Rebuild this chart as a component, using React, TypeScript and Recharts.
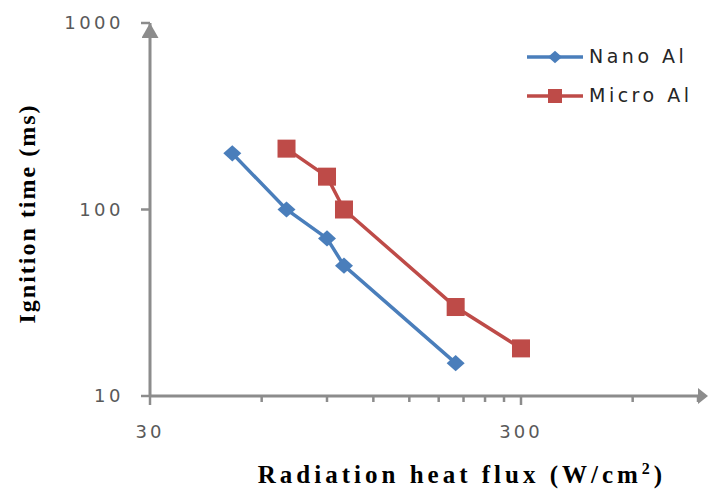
import React from "react";
import { Line, LineChart, XAxis, YAxis } from "recharts";

const NANO_FLUX = [50, 70, 90, 100, 200];
const NANO_TIME = [200, 100, 70, 50, 15];
const MICRO_FLUX = [70, 90, 100, 200, 300];
const MICRO_TIME = [212, 150, 100, 30, 18];

const X_TICKS = [30, 60, 90, 120, 150, 180, 210, 240, 270, 300, 600, 900];
const X_LABELS = [30, 300];
const Y_TICKS = [10, 100, 1000];

const COLORS = {
  nano: "#4A7EBB",
  micro: "#BE4B48",
  axis: "#8C8C8C",
  tickText: "#595959",
};

const nanoData = NANO_FLUX.map((x, i) => ({ x, y: NANO_TIME[i] }));
const microData = MICRO_FLUX.map((x, i) => ({ x, y: MICRO_TIME[i] }));

const TICK_FONT = "'DejaVu Sans', sans-serif";
const TITLE_FONT = "'Liberation Serif', 'Times New Roman', serif";

function Diamond({ cx, cy, r = 9, fill }: any) {
  if (cx == null || cy == null) return null;
  return (
    <path
      d={`M${cx},${cy - r * 0.9} L${cx + r},${cy} L${cx},${cy + r * 0.9} L${cx - r},${cy} Z`}
      fill={fill}
    />
  );
}

function Square({ cx, cy, s = 18, fill }: any) {
  if (cx == null || cy == null) return null;
  return <rect x={cx - s / 2} y={cy - s / 2} width={s} height={s} fill={fill} />;
}

function XTick({ x, y, payload }: any) {
  const major = X_LABELS.includes(payload.value);
  return (
    <g>
      <line x1={x} x2={x} y1={y} y2={y + (major ? 9 : 6)} stroke={COLORS.axis} strokeWidth={2.5} />
      {major && (
        <text
          x={x}
          y={y + 42}
          textAnchor="middle"
          fill={COLORS.tickText}
          fontFamily={TICK_FONT}
          fontSize={18}
          letterSpacing={3}
        >
          {payload.value}
        </text>
      )}
    </g>
  );
}

function YTick({ x, y, payload }: any) {
  return (
    <g>
      <line x1={x - 9} x2={x} y1={y} y2={y} stroke={COLORS.axis} strokeWidth={2.5} />
      <text
        x={x - 26}
        y={y + 6}
        textAnchor="end"
        fill={COLORS.tickText}
        fontFamily={TICK_FONT}
        fontSize={18}
        letterSpacing={3.5}
      >
        {payload.value}
      </text>
    </g>
  );
}

function LegendBox() {
  const rows = [
    { name: "Nano Al", color: COLORS.nano, kind: "diamond" },
    { name: "Micro Al", color: COLORS.micro, kind: "square" },
  ];
  return (
    <svg width={180} height={70} style={{ overflow: "visible" }}>
      {rows.map((r, i) => {
        const cy = 10 + i * 39;
        return (
          <g key={r.name}>
            <line x1={0} x2={56} y1={cy} y2={cy} stroke={r.color} strokeWidth={3.5} />
            {r.kind === "diamond" ? (
              <Diamond cx={28} cy={cy} r={7} fill={r.color} />
            ) : (
              <Square cx={28} cy={cy} s={14} fill={r.color} />
            )}
            <text
              x={62}
              y={cy + 6}
              fill="#262626"
              fontFamily={TICK_FONT}
              fontSize={19}
              letterSpacing={3.5}
            >
              {r.name}
            </text>
          </g>
        );
      })}
    </svg>
  );
}

export default function App() {
  return (
    <div style={{ position: "absolute", left: 0, top: 0, width: 708, height: 493, background: "#fff" }}>
      <svg width={0} height={0} style={{ position: "absolute" }}>
        <defs>
          <marker id="arrowY" markerUnits="userSpaceOnUse" markerWidth={16} markerHeight={18}
            refX={15} refY={8.5} orient="auto-start-reverse">
            <path d="M0,0 L15,8.5 L0,17 Z" fill={COLORS.axis} />
          </marker>
          <marker id="arrowX" markerUnits="userSpaceOnUse" markerWidth={12} markerHeight={18}
            refX={0} refY={8} orient="auto">
            <path d="M0,0 L10,8 L0,16 Z" fill={COLORS.axis} />
          </marker>
        </defs>
      </svg>
      <LineChart width={708} height={493} margin={{ top: 23, right: 10, bottom: 0, left: 0 }}>
        <XAxis
          dataKey="x"
          type="number"
          scale="log"
          domain={[30, 900]}
          ticks={X_TICKS}
          interval={0}
          allowDataOverflow
          height={97}
          tickSize={0}
          tickMargin={0}
          tickLine={false}
          tick={<XTick />}
          axisLine={{ stroke: COLORS.axis, strokeWidth: 3, markerEnd: "url(#arrowX)" }}
          label={{
            content: ({ viewBox }: any) => (
              <text
                x={viewBox.x + 312}
                y={viewBox.y + 87}
                textAnchor="middle"
                fontFamily={TITLE_FONT}
                fontWeight="bold"
                fontSize={25}
                letterSpacing={4}
                fill="#000"
              >
                Radiation heat flux (W/cm<tspan dy={-9} fontSize={16}>2</tspan><tspan dy={9}>)</tspan>
              </text>
            ),
          }}
        />
        <YAxis
          dataKey="y"
          type="number"
          scale="log"
          domain={[10, 1000]}
          ticks={Y_TICKS}
          interval={0}
          allowDataOverflow
          width={150}
          tickSize={0}
          tickMargin={0}
          tickLine={false}
          tick={<YTick />}
          axisLine={{ stroke: COLORS.axis, strokeWidth: 3, markerStart: "url(#arrowY)" }}
          label={{
            content: ({ viewBox }: any) => {
              const cx = viewBox.x + 35;
              const cy = viewBox.y + viewBox.height / 2 + 4;
              return (
                <text
                  x={cx}
                  y={cy}
                  transform={`rotate(-90 ${cx} ${cy})`}
                  textAnchor="middle"
                  fontFamily={TITLE_FONT}
                  fontWeight="bold"
                  fontSize={24}
                  letterSpacing={2}
                  fill="#000"
                >
                  Ignition time (ms)
                </text>
              );
            },
          }}
        />
        <Line
          data={nanoData}
          dataKey="y"
          name="Nano Al"
          stroke={COLORS.nano}
          strokeWidth={3.5}
          dot={(p: any) => <Diamond key={`n${p.index}`} cx={p.cx} cy={p.cy} r={9} fill={COLORS.nano} />}
          activeDot={false}
          isAnimationActive={false}
        />
        <Line
          data={microData}
          dataKey="y"
          name="Micro Al"
          stroke={COLORS.micro}
          strokeWidth={3.5}
          dot={(p: any) => <Square key={`m${p.index}`} cx={p.cx} cy={p.cy} s={18} fill={COLORS.micro} />}
          activeDot={false}
          isAnimationActive={false}
        />
      </LineChart>
      <div style={{ position: "absolute", left: 527, top: 47 }}>
        <LegendBox />
      </div>
    </div>
  );
}
